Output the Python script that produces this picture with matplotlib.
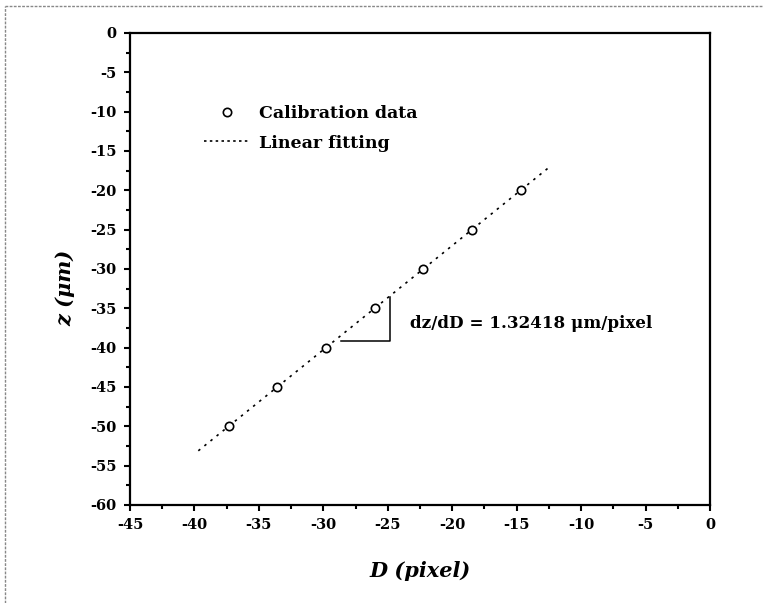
import matplotlib
matplotlib.use("Agg")
import matplotlib.pyplot as plt
from matplotlib.lines import Line2D
import numpy as np

# Calibration measurements
D_px = [-37.35, -33.6, -29.8, -26.0, -22.25, -18.5, -14.7]
z_um = [-50, -45, -40, -35, -30, -25, -20]

# Linear fit
slope = 1.32418
intercept = -0.54
D_fit_range = [-39.7, -12.6]

# Slope triangle corners (D, z)
tri_D = [-28.6, -24.85, -24.85]
tri_z = [-39.1, -39.1, -33.5]

x_ticks = [-45, -40, -35, -30, -25, -20, -15, -10, -5, 0]
y_ticks = [0, -5, -10, -15, -20, -25, -30, -35, -40, -45, -50, -55, -60]

serif = ["DejaVu Serif"]

fig = plt.figure(figsize=(7.63, 6.03), dpi=100)
ax = fig.add_axes([130 / 763, 1 - 505 / 603, 580 / 763, 472 / 603])

D_fit = np.array(D_fit_range)
z_fit = slope * D_fit + intercept
ax.plot(D_fit, z_fit, color="black", lw=1.2, linestyle=(0, (1.5, 3.2)),
        label="Linear fitting", zorder=2)
ax.plot(D_px, z_um, linestyle="none", marker="o", markersize=6.0,
        markerfacecolor="white", markeredgecolor="black", markeredgewidth=1.2,
        label="Calibration data", zorder=3)

ax.plot(tri_D, tri_z, color="black", lw=1.1, zorder=2)
ax.text(-23.25, -36.9, "dz/dD = 1.32418 \u03bcm/pixel", fontsize=12.1,
        fontweight="bold", family=serif, va="center", ha="left")

ax.set_xlim(-45, 0)
ax.set_ylim(-60, 0)
ax.set_xticks(x_ticks)
ax.set_yticks(y_ticks)
ax.set_xticks(np.arange(-42.5, 0, 5), minor=True)
ax.set_yticks(np.arange(-57.5, 0, 5), minor=True)
ax.set_xticklabels([str(v) for v in x_ticks])
ax.set_yticklabels([str(v) for v in y_ticks])

for lab in ax.get_xticklabels() + ax.get_yticklabels():
    lab.set_family(serif)
    lab.set_fontweight("bold")
    lab.set_fontsize(10.5)

ax.tick_params(which="major", direction="out", length=4.5, width=1.5,
               top=False, right=False, pad=5)
ax.tick_params(which="minor", direction="out", length=3, width=1.5,
               top=False, right=False)
for sp in ax.spines.values():
    sp.set_linewidth(1.6)

ax.set_xlabel("D (pixel)", fontsize=15, fontweight="bold", style="italic",
              family=serif, labelpad=21)
ax.set_ylabel("z (\u03bcm)", fontsize=15, fontweight="bold", style="italic",
              family=serif)
ax.yaxis.set_label_coords(-0.095, 0.46)

handles = [
    Line2D([], [], linestyle="none", marker="o", markersize=6.0,
           markerfacecolor="white", markeredgecolor="black", markeredgewidth=1.2),
    Line2D([], [], color="black", lw=1.2, linestyle=(0, (1.5, 2.0))),
]
ax.legend(handles, ["Calibration data", "Linear fitting"], loc="upper left",
          bbox_to_anchor=((204 - 130) / 580, (505 - 105) / 472),
          frameon=False, borderaxespad=0, borderpad=0, handlelength=2.6,
          handletextpad=0.55, labelspacing=0.72,
          prop={"family": serif, "weight": "bold", "size": 12.5})

# Dashed page border along the top and left edges
fig.add_artist(Line2D([5 / 763, 1], [1 - 6 / 603, 1 - 6 / 603],
                      transform=fig.transFigure, color="#888888", lw=1.0,
                      linestyle=(0, (2, 1))))
fig.add_artist(Line2D([5 / 763, 5 / 763], [0, 1 - 6 / 603],
                      transform=fig.transFigure, color="#888888", lw=1.0,
                      linestyle=(0, (2, 1))))

fig.savefig("out.png", dpi=100)
